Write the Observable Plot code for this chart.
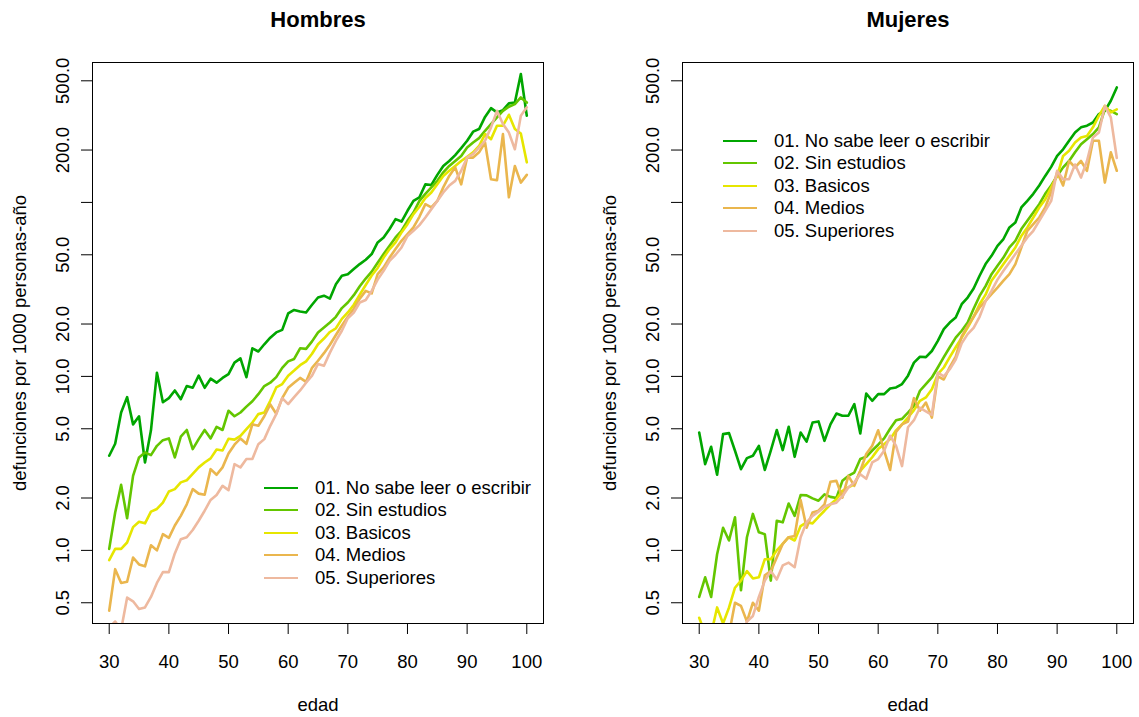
<!DOCTYPE html>
<html>
<head>
<meta charset="utf-8">
<script src="https://cdn.jsdelivr.net/npm/d3@7"></script>
<script src="https://cdn.jsdelivr.net/npm/@observablehq/plot@0.6"></script>
<style>
  body { margin: 0; background: #fff; font-family: "Liberation Sans", Arial, Helvetica, sans-serif; }
  #wrap { position: relative; width: 1139px; height: 717px; overflow: hidden; background: #fff; }
  .panel { position: absolute; top: 0; }
  .legend { position: absolute; font-size: 18.5px; color: #000; }
  .legend .row { position: relative; height: 22.4px; line-height: 22.4px; white-space: nowrap; }
  .legend .sw { position: absolute; left: 0; top: 10px; width: 34px; height: 0; border-top: 2.6px solid; }
  .legend .lab { position: absolute; }
</style>
</head>
<body>
<div id="wrap"></div>
<script>
// ---- data -------------------------------------------------------------
const ages = [30,31,32,33,34,35,36,37,38,39,40,41,42,43,44,45,46,47,48,49,
              50,51,52,53,54,55,56,57,58,59,60,61,62,63,64,65,66,67,68,69,
              70,71,72,73,74,75,76,77,78,79,80,81,82,83,84,85,86,87,88,89,
              90,91,92,93,94,95,96,97,98,99,100];

const seriesNames = ["01. No sabe leer o escribir", "02. Sin estudios", "03. Basicos", "04. Medios", "05. Superiores"];
const seriesColors = ["#00A600", "#63C600", "#E6E600", "#EAB64E", "#EEB99F"];

const xTicks = [30, 40, 50, 60, 70, 80, 90, 100];
const yTicks = [0.5, 1, 2, 5, 10, 20, 50, 100, 200, 500];
const yTickLabels = ["0.5", "1.0", "2.0", "5.0", "10.0", "20.0", "50.0", "", "200.0", "500.0"];

// Hombres
const hombres01 = [3.5, 4.1, 6.2, 7.6, 5.3, 5.9, 3.2, 4.9, 10.5, 7.1,
  7.5, 8.3, 7.4, 8.8, 8.6, 10.1, 8.6, 9.7, 9.2, 9.8,
  10.3, 12.0, 12.7, 9.9, 14.5, 13.9, 15.3, 16.7, 17.9, 18.5,
  23.0, 24.1, 23.6, 23.3, 25.8, 28.4, 29.1, 28.0, 33.9, 37.9,
  38.7, 41.4, 44.2, 46.8, 50.5, 58.9, 62.9, 70.3, 80.2, 77.6,
  89.5, 102, 107, 127, 126, 144, 162, 173, 187, 205,
  226, 255, 264, 310, 348, 329, 339, 371, 375, 547,
  315];
const hombres02 = [1.02, 1.65, 2.38, 1.53, 2.68, 3.42, 3.65, 3.53, 3.99, 4.30,
  4.40, 3.42, 4.50, 4.92, 3.82, 4.36, 4.92, 4.40, 5.13, 4.92,
  6.35, 5.9, 6.2, 6.7, 7.2, 7.9, 8.8, 9.2, 9.9, 11.2,
  12.2, 12.6, 14.5, 14.4, 15.9, 17.9, 19.1, 20.4, 22.0, 24.7,
  26.6, 29.3, 33.0, 36.5, 40.0, 45.0, 50.5, 56.3, 62.9, 68.7,
  78.4, 87.5, 102, 112, 122, 133, 149, 162, 173, 185,
  207, 221, 234, 258, 282, 308, 336, 355, 367, 401,
  375];
const hombres03 = [0.88, 1.02, 1.02, 1.11, 1.36, 1.46, 1.43, 1.67, 1.73, 1.88,
  2.18, 2.25, 2.46, 2.53, 2.75, 3.0, 3.2, 3.38, 3.8, 3.75,
  4.38, 4.33, 4.55, 4.98, 5.43, 6.07, 6.2, 7.24, 8.64, 9.03,
  10.1, 10.8, 11.6, 12.2, 13.5, 15.3, 16.5, 18.0, 18.9, 21.4,
  23.3, 25.8, 29.5, 33.5, 38.0, 42.0, 48.2, 53.9, 58.9, 67.2,
  75.0, 85.6, 94.4, 106, 114, 127, 142, 152, 162, 173,
  183, 194, 211, 247, 231, 276, 276, 319, 264, 249,
  170];
const hombres04 = [0.45, 0.78, 0.65, 0.66, 0.91, 0.83, 0.81, 1.07, 1.0, 1.24,
  1.18, 1.39, 1.58, 1.84, 2.25, 2.12, 2.09, 2.93, 2.72, 3.0,
  3.6, 4.05, 4.4, 4.1, 5.3, 5.2, 5.9, 6.9, 6.1, 7.5,
  8.6, 9.2, 9.8, 9.3, 11.2, 12.3, 13.6, 15.2, 17.3, 19.6,
  22.0, 24.5, 28.0, 31.0, 30.0, 38.7, 42.3, 48.2, 53.9, 60.2,
  65.7, 71.8, 82.7, 97.7, 93.5, 102, 122, 142, 159, 127,
  181, 181, 194, 221, 136, 134, 247, 107, 162, 130,
  144];
const hombres05 = [0.36, 0.39, 0.35, 0.535, 0.51, 0.46, 0.47, 0.54, 0.65, 0.75,
  0.75, 0.96, 1.16, 1.19, 1.31, 1.48, 1.69, 1.95, 2.08, 2.35,
  2.22, 3.13, 3.0, 3.35, 3.35, 4.08, 4.36, 5.2, 6.07, 7.5,
  6.93, 7.6, 8.3, 9.2, 10.1, 11.8, 11.5, 13.7, 16.0, 18.3,
  21.6, 23.3, 26.6, 27.5, 31.0, 36.0, 40.5, 46.2, 50.0, 55.1,
  64.2, 68.7, 74.0, 81.9, 91.5, 102, 114, 125, 133, 152,
  181, 190, 207, 226, 270, 336, 282, 252, 202, 315,
  352];

// Mujeres
const mujeres01 = [4.76, 3.13, 3.94, 2.72, 4.66, 4.72, 3.74, 2.93, 3.39, 3.50,
  3.99, 2.90, 3.74, 4.92, 3.77, 5.13, 3.45, 4.76, 4.22, 5.43,
  5.51, 4.26, 5.3, 6.12, 5.94, 5.94, 6.93, 4.70, 7.98, 7.24,
  7.91, 7.91, 8.52, 8.64, 9.03, 10.1, 12.0, 12.97, 12.9, 14.0,
  16.0, 18.7, 20.4, 21.8, 26.0, 28.4, 32.0, 37.9, 44.2, 49.3,
  56.3, 61.6, 71.8, 76.7, 93.5, 102, 112, 125, 142, 160,
  185, 202, 226, 252, 270, 276, 288, 322, 336, 384,
  458];
const mujeres02 = [0.54, 0.70, 0.54, 0.95, 1.35, 1.14, 1.55, 0.59, 1.19, 1.62,
  1.27, 1.24, 0.67, 1.48, 1.45, 1.86, 1.58, 2.08, 2.07, 1.99,
  1.93, 2.1, 2.03, 2.0, 2.51, 2.68, 2.8, 3.35, 3.45, 3.75,
  4.05, 4.4, 5.0, 5.6, 5.7, 6.2, 6.78, 8.27, 9.03, 9.86,
  11.25, 12.9, 14.7, 16.7, 18.3, 20.4, 24.5, 29.0, 33.0, 38.7,
  43.2, 48.2, 55.1, 60.2, 70.3, 78.4, 87.5, 97.7, 112, 125,
  142, 159, 173, 194, 216, 231, 247, 270, 343, 336,
  322];
const mujeres03 = [0.41, 0.33, 0.33, 0.47, 0.38, 0.47, 0.61, 0.67, 0.76, 0.69,
  0.70, 0.89, 0.89, 1.0, 1.09, 1.19, 1.14, 1.38, 1.45, 1.43,
  1.56, 1.69, 1.84, 1.97, 2.2, 2.3, 2.4, 2.86, 3.13, 3.43,
  3.82, 4.08, 4.36, 4.9, 5.3, 5.8, 6.4, 7.24, 7.57, 8.44,
  10.3, 11.25, 12.9, 14.7, 16.7, 19.1, 22.0, 26.0, 29.5, 35.5,
  39.6, 44.2, 49.3, 55.1, 64.2, 71.8, 81.9, 93.5, 104, 122,
  142, 185, 198, 221, 236, 241, 270, 315, 359, 329,
  343];
const mujeres04 = [0.30, 0.27, 0.30, 0.28, 0.30, 0.33, 0.50, 0.48, 0.39, 0.50,
  0.45, 0.72, 0.76, 0.91, 1.09, 1.19, 1.21, 1.95, 1.35, 1.65,
  1.69, 1.84, 2.48, 2.51, 2.01, 2.68, 2.35, 2.86, 3.58, 3.99,
  4.9, 3.74, 2.9, 4.8, 5.3, 5.5, 7.5, 6.35, 7.07, 5.8,
  10.0, 9.6, 11.3, 13.0, 17.0, 19.5, 22.0, 24.9, 27.2, 29.7,
  32.4, 35.5, 38.7, 44.2, 55.1, 68.7, 75.0, 81.9, 93.5, 115,
  149, 125, 173, 159, 173, 152, 226, 226, 130, 194,
  152];
const mujeres05 = [0.30, 0.28, 0.32, 0.30, 0.27, 0.30, 0.33, 0.31, 0.39, 0.42,
  0.54, 0.67, 0.76, 0.68, 0.82, 0.85, 0.80, 1.19, 1.45, 1.58,
  1.67, 1.78, 1.84, 1.88, 2.05, 2.3, 2.46, 2.74, 2.58, 3.2,
  3.35, 3.74, 4.56, 3.99, 3.05, 5.1, 5.6, 6.6, 6.3, 6.0,
  10.5, 10.0, 11.0, 12.5, 15.5, 17.5, 19.0, 22.0, 27.0, 31.0,
  36.0, 40.5, 45.2, 50.5, 56.3, 62.9, 68.7, 78.4, 89.5, 102,
  152, 136, 136, 165, 139, 173, 236, 252, 359, 308,
  180];

// ---- build -------------------------------------------------------------
const FONT = '"Liberation Sans", Arial, Helvetica, sans-serif';
const FS = 18.5;

function toRows(seriesArrays) {
  const rows = [];
  seriesArrays.forEach((arr, s) => {
    arr.forEach((v, i) => rows.push({ age: ages[i], value: v, serie: seriesNames[s] }));
  });
  return rows;
}

const yTickRows = yTicks.map((v, i) => ({ v, label: yTickLabels[i] })).filter(d => d.label !== "");

function panel(title, seriesArrays, width, marginLeft, marginRight) {
  const rows = toRows(seriesArrays);
  return Plot.plot({
    width,
    height: 717,
    marginLeft,
    marginRight,
    marginTop: 62,
    marginBottom: 94,
    style: { fontFamily: FONT, fontSize: FS + "px", color: "#000", background: "transparent", overflow: "visible" },
    x: { domain: [27.2, 102.8] },
    y: { type: "log", domain: [0.38, 637] },
    color: { domain: seriesNames, range: seriesColors },
    marks: [
      Plot.axisX({ ticks: xTicks, tickSize: 11, tickPadding: 20, label: null, fontSize: FS, stroke: "#000" }),
      Plot.axisY({ ticks: yTicks, tickSize: 11, tickFormat: () => "", label: null, stroke: "#000" }),
      Plot.text(yTickRows, { y: "v", text: "label", frameAnchor: "left", dx: -29, rotate: -90,
        textAnchor: "middle", lineAnchor: "middle", fontSize: FS, fill: "#000" }),
      Plot.line(rows, { x: "age", y: "value", z: "serie", stroke: "serie", strokeWidth: 2.6, clip: true }),
      Plot.frame({ stroke: "#000", strokeWidth: 1 }),
      Plot.text([title], { text: d => d, frameAnchor: "top", dy: -43, lineAnchor: "middle", textAnchor: "middle",
        fontSize: 22, fontWeight: "bold", fill: "#000" }),
      Plot.text(["edad"], { text: d => d, frameAnchor: "bottom", dy: 82, lineAnchor: "middle", textAnchor: "middle",
        fontSize: FS, fill: "#000" }),
      Plot.text(["defunciones por 1000 personas-año"], { text: d => d, frameAnchor: "left", dx: -72, rotate: -90,
        lineAnchor: "middle", textAnchor: "middle", fontSize: FS, fill: "#000" })
    ]
  });
}

function legend(left, top) {
  const div = document.createElement("div");
  div.className = "legend";
  div.style.left = left + "px";
  div.style.top = top + "px";
  seriesNames.forEach((name, i) => {
    const row = document.createElement("div");
    row.className = "row";
    const sw = document.createElement("span");
    sw.className = "sw";
    sw.style.borderTopColor = seriesColors[i];
    const lab = document.createElement("span");
    lab.className = "lab";
    lab.style.left = "51px";
    lab.textContent = name;
    row.appendChild(sw);
    row.appendChild(lab);
    div.appendChild(row);
  });
  return div;
}

const wrap = document.getElementById("wrap");

const left = document.createElement("div");
left.className = "panel";
left.style.left = "0px";
left.appendChild(panel("Hombres", [hombres01, hombres02, hombres03, hombres04, hombres05], 570, 92, 27));
wrap.appendChild(left);

const right = document.createElement("div");
right.className = "panel";
right.style.left = "570px";
right.appendChild(panel("Mujeres", [mujeres01, mujeres02, mujeres03, mujeres04, mujeres05], 569, 112, 6));
wrap.appendChild(right);

wrap.appendChild(legend(264, 477));
wrap.appendChild(legend(723, 130));
</script>
</body>
</html>
